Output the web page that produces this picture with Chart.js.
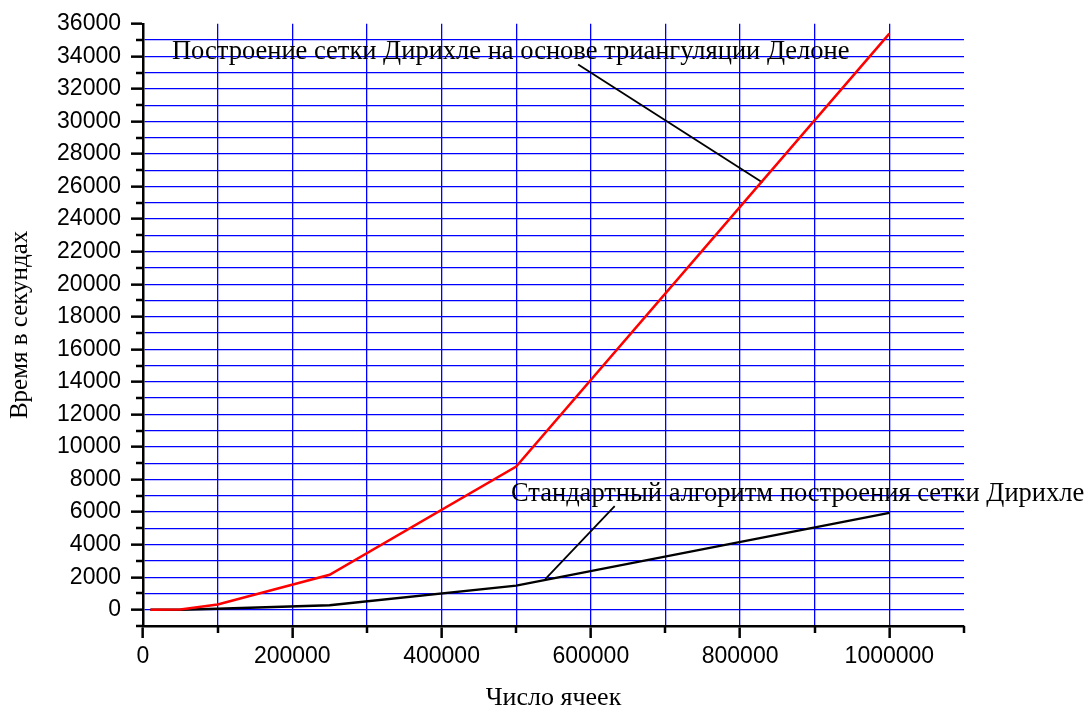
<!DOCTYPE html>
<html>
<head>
<meta charset="utf-8">
<script src="https://cdn.jsdelivr.net/npm/chart.js@4.4.1/dist/chart.umd.min.js"></script>
<style>
  html, body { margin: 0; padding: 0; background: #fff; }
  #wrap { width: 1089px; height: 711px; position: relative; }
</style>
</head>
<body>
<div id="wrap"><canvas id="chart"></canvas></div>
<script>
// число ячеек
const cellCounts = [10000, 50000, 100000, 250000, 500000, 1000000];
// время, с
const delaunayTimes = [0, 20, 320, 2150, 8800, 35400];
const standardTimes = [0, 0, 60, 280, 1480, 5950];

const xLabelValues = [0, 200000, 400000, 600000, 800000, 1000000];
const yLabelValues = [0, 2000, 4000, 6000, 8000, 10000, 12000, 14000, 16000, 18000,
  20000, 22000, 24000, 26000, 28000, 30000, 32000, 34000, 36000];

// подписи и выноски (в единицах данных)
const delaunayLabel = 'Построение сетки Дирихле на основе триангуляции Делоне';
const delaunayLabelPos = { x: 38800, y: 33830 };
const delaunayLeader = [{ x: 583000, y: 33500 }, { x: 830000, y: 26250 }];
const standardLabel = 'Стандартный алгоритм построения сетки Дирихле';
const standardLabelPos = { x: 493000, y: 6700 };
const standardLeader = [{ x: 632000, y: 6370 }, { x: 539000, y: 1880 }];

const toPoints = (xs, ys) => xs.map((v, i) => ({ x: v, y: ys[i] }));

// малые засечки + текстовые подписи
const extras = {
  id: 'extras',
  afterDraw(chart) {
    const { ctx } = chart;
    const x = chart.scales.x, y = chart.scales.y;
    ctx.save();
    ctx.strokeStyle = '#000';
    ctx.lineWidth = 2.5;
    y.ticks.forEach(t => {
      if (yLabelValues.includes(t.value)) return;
      const py = Math.round(y.getPixelForValue(t.value));
      ctx.beginPath();
      ctx.moveTo(y.right - 7, py);
      ctx.lineTo(y.right, py);
      ctx.stroke();
    });
    x.ticks.forEach(t => {
      if (xLabelValues.includes(t.value)) return;
      const px = Math.round(x.getPixelForValue(t.value));
      ctx.beginPath();
      ctx.moveTo(px, x.top);
      ctx.lineTo(px, x.top + 7);
      ctx.stroke();
    });

    ctx.fillStyle = '#000';
    ctx.font = '26.5px "Liberation Serif", "Times New Roman", serif';
    ctx.textAlign = 'left';
    ctx.textBaseline = 'alphabetic';
    ctx.fillText(delaunayLabel, x.getPixelForValue(delaunayLabelPos.x), y.getPixelForValue(delaunayLabelPos.y));
    ctx.fillText(standardLabel, x.getPixelForValue(standardLabelPos.x), y.getPixelForValue(standardLabelPos.y));
    ctx.restore();
  }
};

const ctx = document.getElementById('chart').getContext('2d');
new Chart(ctx, {
  type: 'line',
  data: {
    datasets: [
      {
        label: 'Delaunay',
        data: toPoints(cellCounts, delaunayTimes),
        borderColor: '#ff0000',
        borderWidth: 2.5,
        pointRadius: 0,
        tension: 0
      },
      {
        label: 'Standard',
        data: toPoints(cellCounts, standardTimes),
        borderColor: '#000000',
        borderWidth: 2.5,
        pointRadius: 0,
        tension: 0
      },
      {
        label: 'leader1',
        data: delaunayLeader,
        borderColor: '#000000',
        borderWidth: 1.8,
        pointRadius: 0
      },
      {
        label: 'leader2',
        data: standardLeader,
        borderColor: '#000000',
        borderWidth: 1.8,
        pointRadius: 0
      }
    ]
  },
  options: {
    responsive: true,
    maintainAspectRatio: false,
    animation: false,
    layout: { padding: { top: 22, right: 125, left: 0, bottom: 0 } },
    plugins: {
      legend: { display: false },
      tooltip: { enabled: false }
    },
    scales: {
      x: {
        type: 'linear',
        min: 0,
        max: 1100000,
        afterFit: (scale) => { scale.height = 85; },
        border: { color: '#000', width: 2.5 },
        grid: {
          color: (c) => (c.tick && (c.tick.value === 0 || c.tick.value === 1100000)) ? 'rgba(0,0,0,0)' : '#0000ff',
          lineWidth: 1.3,
          tickLength: 12,
          tickWidth: 2.5,
          tickColor: (c) => (c.tick && xLabelValues.includes(c.tick.value)) ? '#000' : 'rgba(0,0,0,0)'
        },
        ticks: {
          stepSize: 100000,
          autoSkip: false,
          maxRotation: 0,
          padding: 5,
          color: '#000',
          font: { family: '"Liberation Sans", Arial, sans-serif', size: 23 },
          callback: (v) => xLabelValues.includes(v) ? String(v) : ''
        },
        title: {
          display: true,
          text: 'Число ячеек',
          color: '#000',
          font: { family: '"Liberation Serif", "Times New Roman", serif', size: 26, lineHeight: 1 },
          padding: { top: 0, bottom: 0 }
        }
      },
      y: {
        type: 'linear',
        min: -1000,
        max: 36000,
        afterFit: (scale) => { scale.width = 143; },
        border: { color: '#000', width: 2.5 },
        grid: {
          color: (c) => (c.tick && (c.tick.value === -1000 || c.tick.value === 36000)) ? 'rgba(0,0,0,0)' : '#0000ff',
          lineWidth: 1.3,
          tickLength: 12,
          tickWidth: 2.5,
          tickColor: (c) => (c.tick && yLabelValues.includes(c.tick.value)) ? '#000' : 'rgba(0,0,0,0)'
        },
        ticks: {
          stepSize: 1000,
          autoSkip: false,
          padding: 10,
          color: '#000',
          font: { family: '"Liberation Sans", Arial, sans-serif', size: 23 },
          callback: (v) => yLabelValues.includes(v) ? String(v) : ''
        },
        title: {
          display: true,
          text: 'Время в секундах',
          color: '#000',
          font: { family: '"Liberation Serif", "Times New Roman", serif', size: 25, lineHeight: 1 },
          padding: { top: 8, bottom: 0 }
        }
      }
    }
  },
  plugins: [extras]
});
</script>
</body>
</html>
